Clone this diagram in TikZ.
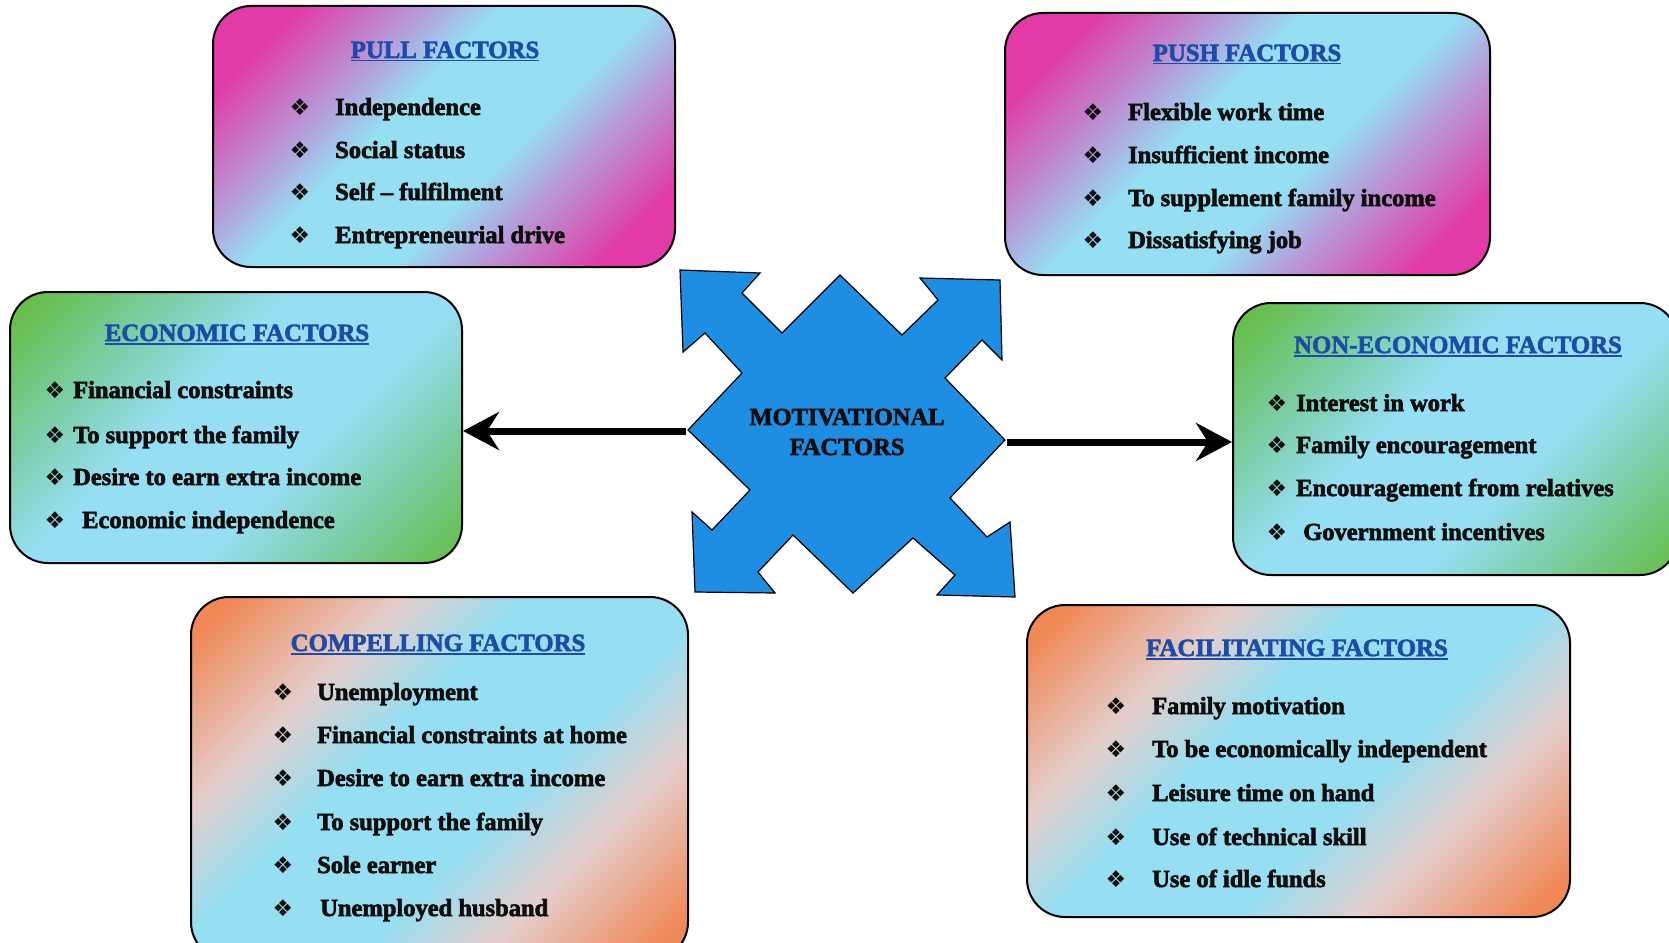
\documentclass[tikz,border=0pt]{standalone}
\usepackage{fontspec}
\setmainfont{Liberation Serif}[BoldFeatures={FakeBold=2.5}]
\newfontfamily\dingfont{DejaVu Sans}
\usetikzlibrary{arrows.meta}

\definecolor{pk}{RGB}{226,58,166}
\definecolor{lav}{RGB}{184,152,216}
\definecolor{cy}{RGB}{150,222,242}
\definecolor{gr}{RGB}{104,190,78}
\definecolor{grl}{RGB}{126,208,176}
\definecolor{og}{RGB}{240,136,86}
\definecolor{ogl}{RGB}{228,206,204}
\definecolor{titleblue}{RGB}{28,76,168}
\definecolor{starblue}{RGB}{30,142,226}

\pgfdeclarehorizontalshading{pinkband}{100bp}{color(0bp)=(pk); color(23bp)=(pk); color(35bp)=(lav); color(43bp)=(cy); color(58bp)=(cy); color(66bp)=(lav); color(78bp)=(pk); color(100bp)=(pk)}
\pgfdeclarehorizontalshading{greenband}{100bp}{color(0bp)=(gr); color(18bp)=(gr); color(32bp)=(grl); color(42bp)=(cy); color(60bp)=(cy); color(70bp)=(grl); color(84bp)=(gr); color(100bp)=(gr)}
\pgfdeclarehorizontalshading{orangeband}{100bp}{color(0bp)=(og); color(18bp)=(og); color(32bp)=(ogl); color(42bp)=(cy); color(58bp)=(cy); color(68bp)=(ogl); color(82bp)=(og); color(100bp)=(og)}

\newcommand{\myul}[1]{\setbox0\hbox{#1}\rlap{\rule[-3.5pt]{\wd0}{1.8pt}}\box0}

\tikzset{
  factorbox/.style={draw=black, line width=2pt, rounded corners=38pt, inner sep=0pt, shading angle=-45},
  ttl/.style={anchor=base, inner sep=0pt, text=titleblue, font=\fontsize{24.8}{28}\selectfont\bfseries},
  itm/.style={anchor=base west, inner sep=0pt, text=black!95, font=\fontsize{24.5}{28}\selectfont\bfseries},
  bul/.style={anchor=base, inner sep=0pt, text=black!95, font=\dingfont\fontsize{23}{26}\selectfont},
  bigarrow/.style={line width=7pt, -{Stealth[length=36pt,width=38pt,inset=12pt]}},
  motshape/.style={fill=starblue, draw=black, line width=1.2pt, line join=miter},
  mottext/.style={align=center, inner sep=0pt, text=black!95, font=\fontsize{24.5}{30}\selectfont\bfseries}
}

\begin{document}
\begin{tikzpicture}[x=1pt,y=-1pt]
\path[use as bounding box] (0,0) rectangle (1669,942);
\fill[white] (0,0) rectangle (1669,942);
\clip (0,0) rectangle (1669,942);

% boxes
\node[factorbox, shading=pinkband, minimum width=462pt, minimum height=261pt] (pull) at (444,136.5) {};
\node[factorbox, shading=pinkband, minimum width=485pt, minimum height=262pt] (push) at (1247.5,144) {};
\node[factorbox, shading=greenband, minimum width=452pt, minimum height=271pt] (econ) at (236,427.5) {};
\node[factorbox, shading=greenband, minimum width=445pt, minimum height=272pt] (noneco) at (1455.5,439) {};
\node[factorbox, shading=orangeband, minimum width=497pt, minimum height=363pt] (comp) at (439.5,778.5) {};
\node[factorbox, shading=orangeband, minimum width=543pt, minimum height=312pt] (facil) at (1298.5,761) {};

% titles
\node[ttl] (pullt) at (445,58) {\myul{PULL FACTORS}};
\node[ttl] (pusht) at (1247,61) {\myul{PUSH FACTORS}};
\node[ttl] (econt) at (237,341) {\myul{ECONOMIC FACTORS}};
\node[ttl] (nonecot) at (1458,353) {\myul{NON-ECONOMIC FACTORS}};
\node[ttl] (compt) at (438,651) {\myul{COMPELLING FACTORS}};
\node[ttl] (facilt) at (1297,656) {\myul{FACILITATING FACTORS}};

% items
\foreach \t/\y [count=\i] in {Independence/115, Social status/158, Self – fulfilment/200, Entrepreneurial drive/243}{
  \node[bul] (pullb\i) at (300,\y) {❖};
  \node[itm] (pulli\i) at (335,\y) {\t};
}
\foreach \t/\y [count=\i] in {Flexible work time/120, Insufficient income/163, To supplement family income/206, Dissatisfying job/248}{
  \node[bul] (pushb\i) at (1093,\y) {❖};
  \node[itm] (pushi\i) at (1128,\y) {\t};
}
\foreach \t/\y/\x [count=\i] in {Financial constraints/398/73, To support the family/443/73, Desire to earn extra income/485/73, Economic independence/528/82}{
  \node[bul] (econb\i) at (55,\y) {❖};
  \node[itm] (econi\i) at (\x,\y) {\t};
}
\foreach \t/\y/\x [count=\i] in {Interest in work/411/1296, Family encouragement/453/1296, Encouragement from relatives/496/1296, Government incentives/540/1303}{
  \node[bul] (nonecob\i) at (1277,\y) {❖};
  \node[itm] (nonecoi\i) at (\x,\y) {\t};
}
\foreach \t/\y/\x [count=\i] in {Unemployment/700/317, Financial constraints at home/743/317, Desire to earn extra income/786/317, To support the family/830/317, Sole earner/873/317, Unemployed husband/916/320}{
  \node[bul] (compb\i) at (283,\y) {❖};
  \node[itm] (compi\i) at (\x,\y) {\t};
}
\foreach \t/\y [count=\i] in {Family motivation/714, To be economically independent/757, Leisure time on hand/801, Use of technical skill/845, Use of idle funds/887}{
  \node[bul] (facilb\i) at (1116,\y) {❖};
  \node[itm] (facili\i) at (1152,\y) {\t};
}

% central star
\draw[motshape] (680,270) -- (760,273) -- (742,293) -- (782,333) -- (840,275) -- (902,335) -- (938,300) -- (920,278) -- (1000,280) -- (1002,360) -- (982,340) -- (945,378) -- (1005,440) -- (950,498) -- (987,537) -- (1010,522) -- (1015,597) -- (937,595) -- (955,575) -- (913,538) -- (853,593) -- (793,535) -- (758,572) -- (775,593) -- (695,592) -- (692,512) -- (712,530) -- (750,490) -- (688,430) -- (742,373) -- (705,333) -- (683,352) -- cycle;
\node[mottext] (mot) at (847,432) {MOTIVATIONAL\\FACTORS};
\coordinate (motW) at (686,431);
\coordinate (motE) at (1007,442);

% arrows
\draw[bigarrow] (motW) -- (motW -| econ.east);
\draw[bigarrow] (motE) -- (motE -| noneco.west);
\end{tikzpicture}
\end{document}
